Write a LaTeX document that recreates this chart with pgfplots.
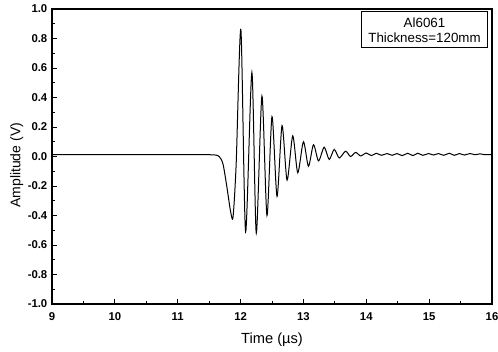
\documentclass[border=0pt]{standalone}
\usepackage{fontspec}
\setmainfont{Liberation Sans}
\usepackage{pgfplots}
\pgfplotsset{compat=1.18}
\begin{document}
\begin{tikzpicture}
\begin{axis}[
  scale only axis,
  width=330pt, height=221.25pt,
  xmin=9, xmax=16, ymin=-1, ymax=1,
  xtick={9,10,...,16}, ytick={-1,-0.8,...,1.01},
  minor x tick num=1, minor y tick num=1,
  tick align=inside,
  xtick pos=bottom, ytick pos=left,
  major tick length=4pt, minor tick length=2.5pt,
  axis line style={line width=0.8pt},
  every tick/.style={black, line width=0.6pt},
  /pgf/number format/assume math mode=true,
  yticklabel style={/pgf/number format/.cd, fixed, fixed zerofill, precision=1},
  xticklabel style={yshift=-3pt, /pgf/number format/.cd, fixed},
  tick label style={font=\fontsize{8.5}{10}\selectfont\bfseries},
  xlabel={Time (µs)}, ylabel={Amplitude (V)},
  ylabel shift=-3.5pt,
  xlabel style={font=\fontsize{11}{13}\selectfont, yshift=-2pt},
  ylabel style={font=\fontsize{10.5}{12}\selectfont, at={(ticklabel cs:0.47)}},
]
\addplot[black, line width=0.75pt, smooth, tension=0.45] coordinates {
(9.00,0.012) (10.0,0.012) (11.0,0.012) (11.5,0.012) (11.60,0.010) (11.66,0.000)
(11.72,-0.05) (11.78,-0.20) (11.84,-0.37) (11.88,-0.41) (11.93,-0.05)
(12.005,0.86) (12.08,-0.51) (12.18,0.57) (12.25,-0.52) (12.34,0.41)
(12.42,-0.40) (12.50,0.27) (12.58,-0.27) (12.66,0.21) (12.74,-0.16)
(12.83,0.14) (12.91,-0.11) (13.00,0.10) (13.08,-0.066) (13.16,0.08)
(13.24,-0.03) (13.33,0.063) (13.41,-0.02) (13.49,0.048) (13.57,-0.01)
(13.67,0.036) (13.75,0.000) (13.83,0.028) (13.91,0.004) (14.00,0.024)
(14.08,0.006) (14.16,0.022) (14.24,0.008) (14.33,0.020) (14.41,0.008)
(14.49,0.020) (14.57,0.006) (14.66,0.022) (14.74,0.006) (14.82,0.022)
(14.90,0.008) (14.99,0.020) (15.07,0.010) (15.15,0.020) (15.23,0.008)
(15.32,0.022) (15.40,0.008) (15.48,0.020) (15.56,0.010) (15.65,0.020)
(15.73,0.012) (15.81,0.018) (15.89,0.012) (16.00,0.014)
};
\node[draw=black, line width=0.7pt, fill=white, align=center, inner sep=2pt,
  minimum width=94pt, minimum height=27pt, font=\fontsize{10}{11.5}\selectfont]
  at (rel axis cs:0.8466,0.929) {Al6061\\Thickness=120mm};
\end{axis}
\pgfresetboundingbox
\path ([xshift=-39pt,yshift=-35.25pt]current axis.south west)
  rectangle ([xshift=4.5pt,yshift=6.75pt]current axis.north east);
\end{tikzpicture}
\end{document}
